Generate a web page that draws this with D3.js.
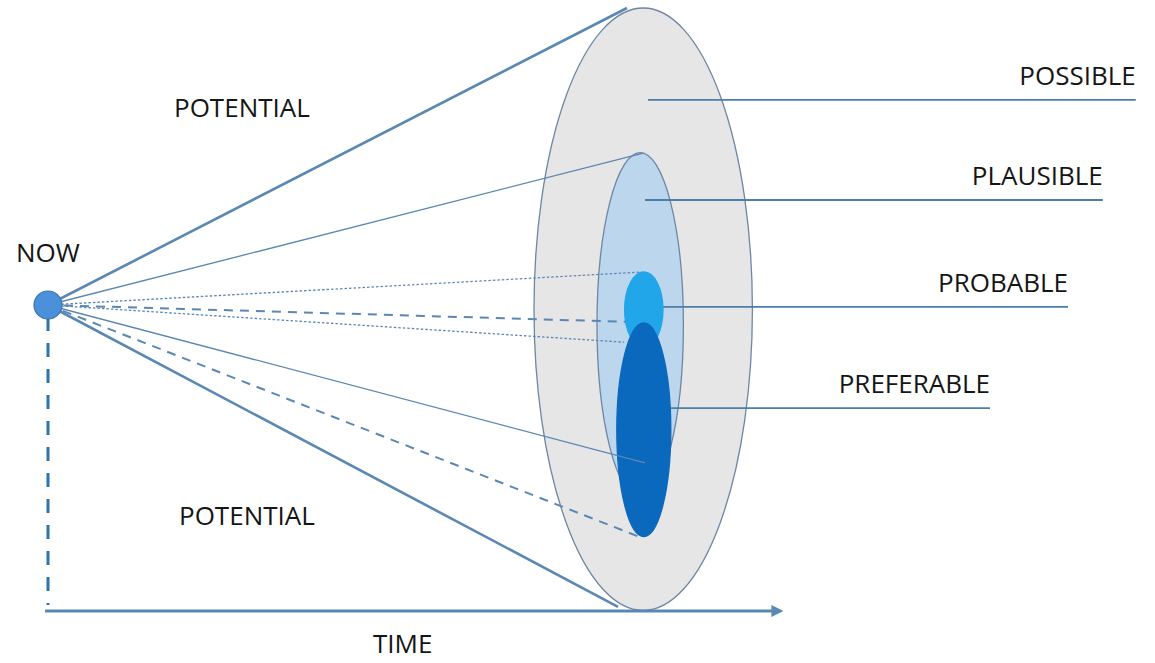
<!DOCTYPE html>
<html>
<head>
<meta charset="utf-8">
<script src="https://cdn.jsdelivr.net/npm/d3@7"></script>
<style>
  body { margin: 0; background: #fff; }
  svg text { font-family: "Open Sans", sans-serif; fill: #151515; }
</style>
</head>
<body>
<svg width="1155" height="663"></svg>
<script>
// futures cone: time runs to the right, spread of outcomes up/down
const layers = ["POSSIBLE", "PLAUSIBLE", "PROBABLE", "PREFERABLE"];
const layerTime = [99.2, 98.7, 99.3, 99.3];
const layerCentre = [-0.7, -3.3, -0.8, -20.8];
const layerWidth = [18.2, 7.2, 3.2, 4.5];
const layerSpread = [50.2, 28.7, 6.3, 17.8];
const layerFill = ["#e6e6e6", "#bcd6ee", "#22a6ea", "#0a68bd"];

// label leader lines: start inside each layer, end under the label
const labelStartTime = [100, 99.5, 102.5, 103.8];
const labelEndTime = [181.3, 175.8, 170, 157];
const labelLevel = [34.2, 17.5, -0.3, -17.2];

// rays from NOW to the cone
const rayEndTime = [96.5, 95, 99.2, 99, 96.2, 96, 99.5, 98.7];
const rayEndLevel = [49.5, -50.3, 25.3, 5.5, -2.8, -6.2, -26.3, -38.7];
const rayKind = ["thick", "thick", "thin", "dot", "dash", "dot", "thin", "dash"];

const timeAxisEnd = 122.3;
const floorLevel = -51;

const svg = d3.select("svg");
const x = d3.scaleLinear().domain([0, 100]).range([48, 648]);
const y = d3.scaleLinear().domain([-50, 50]).range([605, 5]);
const k = 6; // px per unit, same on both scales

const lineColor = "#5a88b2";

// ellipses, largest first
layers.forEach((name, i) => {
    svg.append("ellipse")
        .attr("cx", x(layerTime[i]))
        .attr("cy", y(layerCentre[i]))
        .attr("rx", layerWidth[i] * k)
        .attr("ry", layerSpread[i] * k)
        .style("fill", layerFill[i])
        .style("stroke", i < 2 ? "#6d87a3" : layerFill[i])
        .style("stroke-width", 1.3);
});

// rays
rayEndTime.forEach((t, i) => {
    const kind = rayKind[i];
    const ray = svg.append("line")
        .attr("x1", x(0))
        .attr("y1", y(0))
        .attr("x2", x(t))
        .attr("y2", y(rayEndLevel[i]))
        .style("stroke", lineColor)
        .style("stroke-width", kind === "thick" ? 2.6 : kind === "dash" ? 2 : 1.3);
    if (kind === "dash") ray.style("stroke-dasharray", "9,7");
    if (kind === "dot") ray.style("stroke-dasharray", "2.5,2");
});

// vertical dashed drop from NOW
svg.append("line")
    .attr("x1", x(0)).attr("y1", y(-2))
    .attr("x2", x(0)).attr("y2", y(-50))
    .style("stroke", "#2f74ad")
    .style("stroke-width", 3)
    .style("stroke-dasharray", "14,12");

// time arrow
svg.append("defs").append("marker")
    .attr("id", "arrow")
    .attr("viewBox", "0 0 10 10")
    .attr("refX", 2).attr("refY", 5)
    .attr("markerWidth", 4).attr("markerHeight", 4)
    .attr("orient", "auto")
    .append("path")
    .attr("d", "M0,0 L10,5 L0,10 z")
    .style("fill", lineColor);

svg.append("line")
    .attr("x1", x(-0.5)).attr("y1", y(floorLevel))
    .attr("x2", x(timeAxisEnd) - 8).attr("y2", y(floorLevel))
    .style("stroke", lineColor)
    .style("stroke-width", 3)
    .attr("marker-end", "url(#arrow)");

// NOW dot
svg.append("circle")
    .attr("cx", x(0)).attr("cy", y(0)).attr("r", 14)
    .style("fill", "#4a90db")
    .style("stroke", "#3a74ad")
    .style("stroke-width", 1.2);

// leader lines + labels
layers.forEach((name, i) => {
    svg.append("line")
        .attr("x1", x(labelStartTime[i]))
        .attr("y1", y(labelLevel[i]))
        .attr("x2", x(labelEndTime[i]))
        .attr("y2", y(labelLevel[i]))
        .style("stroke", "#4c7ea6")
        .style("stroke-width", 1.8);
    svg.append("text")
        .attr("x", x(labelEndTime[i]))
        .attr("y", y(labelLevel[i]) - 15)
        .attr("text-anchor", "end")
        .style("font-size", "26px")
        .text(name);
});

svg.append("text").attr("x", 16).attr("y", 262).style("font-size", "26px").text("NOW");
svg.append("text").attr("x", 174).attr("y", 117).style("font-size", "26px").text("POTENTIAL");
svg.append("text").attr("x", 179).attr("y", 525).style("font-size", "26px").text("POTENTIAL");
svg.append("text").attr("x", 373).attr("y", 653).style("font-size", "26px").text("TIME");
</script>
</body>
</html>
